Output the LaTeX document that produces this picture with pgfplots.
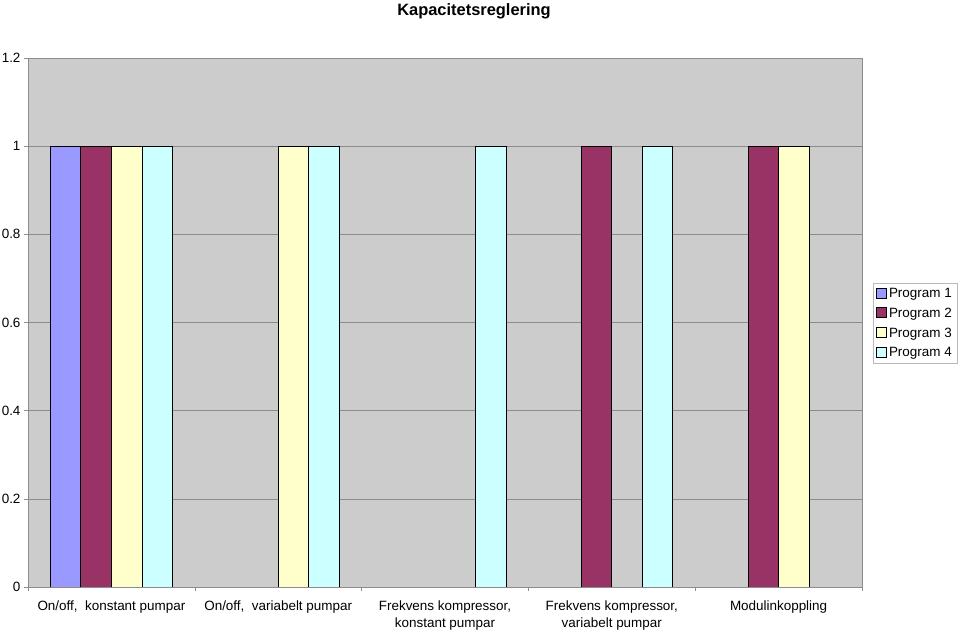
\documentclass[border=0pt]{standalone}
\usepackage{fontspec}
\setmainfont{Liberation Sans}
\usepackage{pgfplots}
\pgfplotsset{compat=1.18}
\definecolor{progone}{RGB}{153,153,255}
\definecolor{progtwo}{RGB}{153,51,102}
\definecolor{progthree}{RGB}{255,255,204}
\definecolor{progfour}{RGB}{204,255,255}
\definecolor{plotbg}{RGB}{204,204,204}
\definecolor{gridgray}{RGB}{140,140,140}
\begin{document}
\begin{tikzpicture}
\useasboundingbox (0,0) rectangle (960bp,633bp);
\node[font=\bfseries\fontsize{16.5}{19}\selectfont] at (474bp,622bp) {Kapacitetsreglering};
\begin{axis}[
  at={(28bp,46bp)}, anchor=south west,
  scale only axis,
  width=834bp, height=529bp,
  xmin=-0.5, xmax=4.5,
  ymin=0, ymax=1.2,
  ybar=0pt, bar width=30.5bp,
  axis background/.style={fill=plotbg},
  axis line style={gridgray, line width=0.8bp},
  ytick={0,0.2,...,1.2},
  yticklabels={0,0.2,0.4,0.6,0.8,1,1.2},
  ymajorgrids,
  grid style={gridgray, line width=0.6bp},
  tick align=outside,
  major tick length=4bp,
  minor tick length=4bp,
  tick style={gridgray, line width=0.6bp},
  ytick pos=left,
  xtick pos=bottom,
  xtick={0,1,2,3,4},
  major x tick style={draw=none},
  minor xtick={-0.5,0.5,1.5,2.5,3.5,4.5},
  xticklabels={{On/off,\ \ konstant pumpar},{On/off,\ \ variabelt pumpar},{Frekvens kompressor,\\konstant pumpar},{Frekvens kompressor,\\variabelt pumpar},{Modulinkoppling}},
  xticklabel style={align=center, font=\fontsize{13.5}{17}\selectfont, yshift=-6bp},
  yticklabel style={font=\fontsize{13.5}{16}\selectfont},
  /pgf/number format/assume math mode=true,
  legend style={at={(1.0132,0.5747)}, anchor=north west, draw=gridgray!60,
    font=\fontsize{13.5}{16}\selectfont, inner sep=3bp, row sep=5bp,
    cells={anchor=west}},
  legend image code/.code={\draw[#1, draw=black] (0bp,-4.5bp) rectangle (10bp,5.5bp);},
  every axis plot/.append style={draw=black, line width=0.8bp},
]
\addplot[fill=progone] coordinates {(0,1)};
\addlegendentry{Program 1}
\addplot[fill=progtwo] coordinates {(0,1) (3,1) (4,1)};
\addlegendentry{Program 2}
\addplot[fill=progthree] coordinates {(0,1) (1,1) (4,1)};
\addlegendentry{Program 3}
\addplot[fill=progfour] coordinates {(0,1) (1,1) (2,1) (3,1)};
\addlegendentry{Program 4}
\end{axis}
\end{tikzpicture}
\end{document}
